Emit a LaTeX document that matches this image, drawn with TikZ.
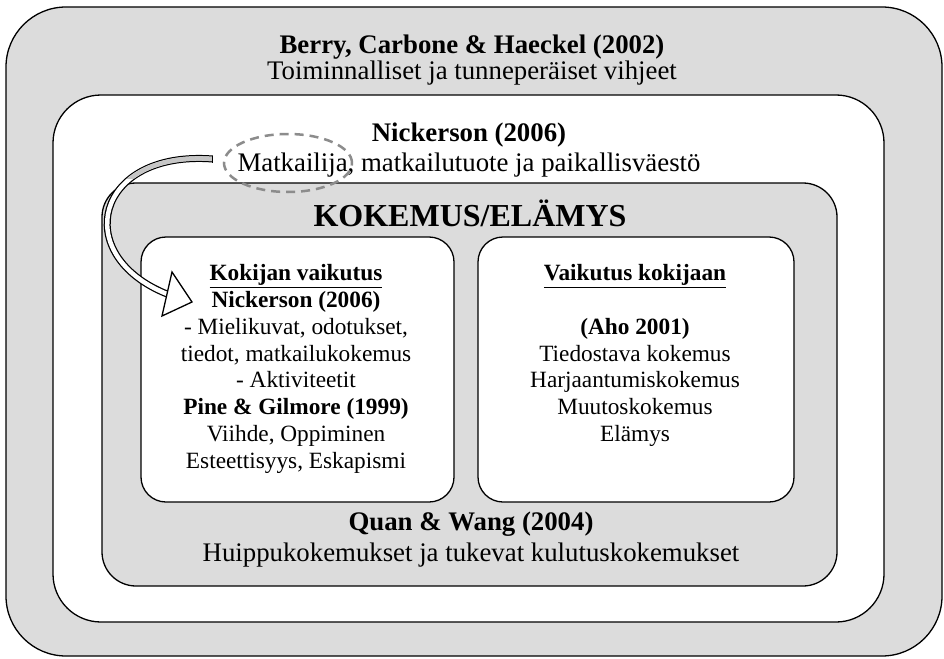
\documentclass[tikz,border=0pt]{standalone}
\usepackage{fontspec}
\setmainfont{Liberation Serif}
\usetikzlibrary{shapes.geometric}
\definecolor{boxgray}{RGB}{220,220,220}
\definecolor{dashgray}{RGB}{140,140,140}
\newcommand{\txt}{\fontsize{23.3}{26.8}\selectfont}
\newcommand{\outtxt}{\fontsize{26.8}{30}\selectfont}
\newcommand{\bigtxt}{\fontsize{32}{36}\selectfont}

\begin{document}
\begin{tikzpicture}[x=1pt,y=-1pt,
  frame/.style={draw, line width=1.3pt, inner sep=0pt},
  lbl/.style={align=center, inner sep=0pt, font=\txt},
  captxt/.style={align=center, inner sep=0pt, font=\outtxt}]
\useasboundingbox (0,0) rectangle (944,658);
% laatikot
\node[frame, fill=boxgray, rounded corners=60pt, minimum width=936pt, minimum height=649pt] (outer) at (474,331.5) {};
\node[frame, fill=white, rounded corners=48pt, minimum width=831pt, minimum height=527pt] (middle) at (468.5,358.5) {};
\node[frame, fill=boxgray, rounded corners=34pt, minimum width=735pt, minimum height=403pt] (inner) at (469.5,384.5) {};
\node[frame, fill=white, rounded corners=25pt, minimum width=313pt, minimum height=265pt] (lbox) at (297.5,369.5) {};
\node[frame, fill=white, rounded corners=25pt, minimum width=316pt, minimum height=265pt] (rbox) at (636,369.5) {};
% tekstit
\node[captxt, font=\fontsize{26.8}{26}\selectfont] (berry) at (472,60.5) {\textbf{Berry, Carbone \& Haeckel (2002)}\\Toiminnalliset ja tunneperäiset vihjeet};
\node[captxt] (nick) at (469,150.5) {\textbf{Nickerson (2006)}\\Matkailija, matkailutuote ja paikallisväestö};
\node[inner sep=0pt, font=\bigtxt\bfseries] (kok) at (470,213) {KOKEMUS/ELÄMYS};
\node[lbl] (ltext) at (296,369) {\textbf{\underline{Kokijan vaikutus}}\\\textbf{Nickerson (2006)}\\- Mielikuvat, odotukset,\\tiedot, matkailukokemus\\- Aktiviteetit\\\textbf{Pine \& Gilmore (1999)}\\Viihde, Oppiminen\\Esteettisyys, Eskapismi};
\node[lbl] (rtext) at (635,355.5) {\textbf{\underline{Vaikutus kokijaan}}\\[26.8pt]\textbf{(Aho 2001)}\\Tiedostava kokemus\\Harjaantumiskokemus\\Muutoskokemus\\Elämys};
\node[captxt, font=\fontsize{26.8}{31}\selectfont] (quan) at (471,540) {\textbf{Quan \& Wang (2004)}\\Huippukokemukset ja tukevat kulutuskokemukset};
% katkoviivaellipsi ja nuoli
\node[draw=dashgray, dash pattern=on 9pt off 6pt, line width=2.5pt, ellipse, minimum width=128pt, minimum height=58pt, inner sep=0pt] (ell) at (288,163) {};
\coordinate (astart) at ([xshift=-10pt,yshift=4pt]ell.west);
\coordinate (abase) at (167,294);
\draw[line width=1.25pt, double=white, double distance=4.5pt] (astart) .. controls (95,150) and (70,255) .. (abase);
\begin{scope}
  \clip (100,140) rectangle (230,178);
  \draw[line width=4.5pt, gray!45] (astart) .. controls (95,150) and (70,255) .. (abase);
\end{scope}
\draw[line width=1.25pt] ([yshift=3.5pt]astart) -- ([yshift=-3.5pt]astart);
\draw[line width=1.3pt, fill=white] (172,272) -- (192,302) -- (162,316) -- cycle;
\end{tikzpicture}
\end{document}
